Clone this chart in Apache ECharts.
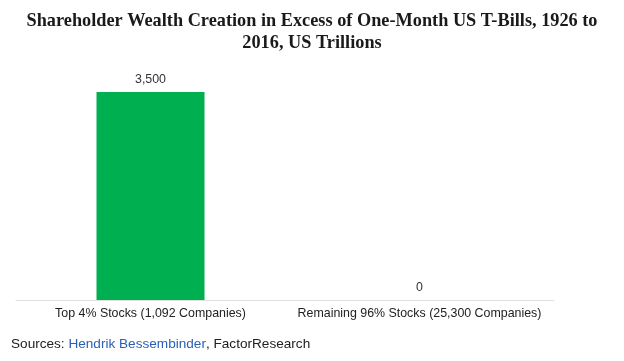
<!DOCTYPE html>
<html><head><meta charset="utf-8">
<script src="https://cdn.jsdelivr.net/npm/echarts@6/dist/echarts.min.js"></script>
<style>html,body{margin:0;padding:0;background:#fff}#c{width:624px;height:361px}</style>
</head><body><div id="c"></div>
<script>
const categories = ['Top 4% Stocks (1,092 Companies)', 'Remaining 96% Stocks (25,300 Companies)'];
const values = [3500, 0];
const titleText = 'Shareholder Wealth Creation in Excess of One-Month US T-Bills, 1926 to\n2016, US Trillions';

const chart = echarts.init(document.getElementById('c'), null, {renderer: 'canvas'});
chart.setOption({
  animation: false,
  backgroundColor: '#fff',
  title: {
    text: titleText, left: 'center', top: 5,
    textStyle: {fontFamily: 'Liberation Serif', fontWeight: 'bold', fontSize: 18.3, color: '#1a1a1a', lineHeight: 22}
  },
  grid: {left: 16, right: 70, top: 92, bottom: 61, containLabel: false},
  xAxis: {
    type: 'category', data: categories,
    axisLine: {lineStyle: {color: '#e0e0e0', width: 1}},
    axisTick: {show: false},
    axisLabel: {color: '#222', fontFamily: 'Liberation Sans', fontSize: 12.4, margin: 8, interval: 0}
  },
  yAxis: {type: 'value', min: 0, max: 3500, show: false, splitLine: {show: false}},
  series: [{
    type: 'bar', data: values, barWidth: 108,
    itemStyle: {color: '#00b050'},
    label: {show: true, position: 'top', distance: 6, color: '#333', fontFamily: 'Liberation Sans', fontSize: 12.4,
      formatter: p => p.value.toLocaleString('en-US')}
  }],
  graphic: [{
    type: 'text', left: 11, top: 337,
    style: {
      text: '{a|Sources: }{b|Hendrik Bessembinder}{a|, FactorResearch}',
      rich: {
        a: {fontFamily: 'Liberation Sans', fontSize: 13.6, fill: '#222'},
        b: {fontFamily: 'Liberation Sans', fontSize: 13.6, fill: '#2a5fb8'}
      }
    }
  }]
});
</script></body></html>
